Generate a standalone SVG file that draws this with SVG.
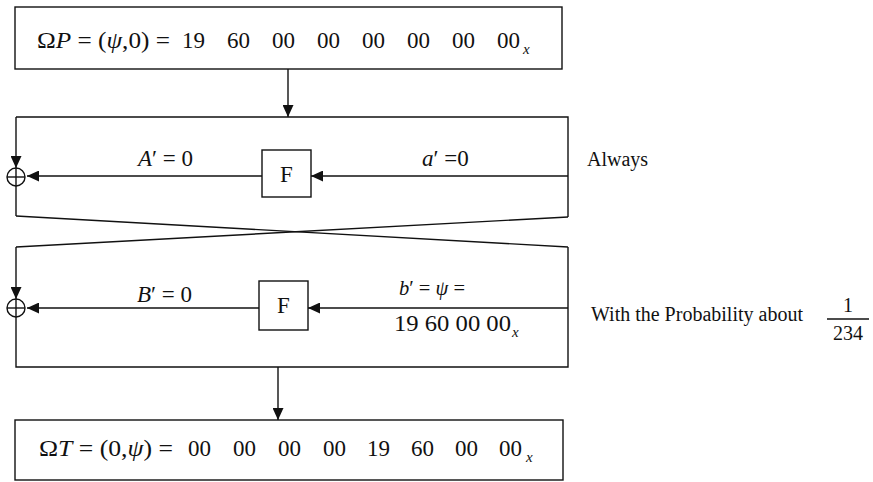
<svg xmlns="http://www.w3.org/2000/svg" width="873" height="482" viewBox="0 0 873 482">
<defs>
<marker id="ah" markerUnits="userSpaceOnUse" markerWidth="12" markerHeight="11" viewBox="0 0 12 11" refX="12" refY="5.5" orient="auto"><path d="M0,0 L12,5.5 L0,11 Z" fill="#111"/></marker>
<style>
.ln{stroke:#111;stroke-width:1.4;fill:none}
.box{fill:#fff;stroke:#111;stroke-width:1.4}
.t{font-family:"Liberation Serif","Times New Roman",serif;fill:#111}
.m{font-size:23px}
.s{font-size:21px}
.i{font-style:italic}
.lbl{font-size:20px}
.sub{font-size:15px;font-style:italic}
</style>
</defs>
<rect width="873" height="482" fill="#fff"/>

<g id="connectors">
  <line class="ln" x1="288" y1="69" x2="288" y2="117" marker-end="url(#ah)"/>
  <path class="ln" d="M16,117 H568 V217"/>
  <line class="ln" x1="16" y1="117" x2="16" y2="168" marker-end="url(#ah)"/>
  <line class="ln" x1="16" y1="186" x2="16" y2="216"/>
  <line class="ln" x1="568" y1="176" x2="311" y2="176" marker-end="url(#ah)"/>
  <line class="ln" x1="262" y1="176" x2="27" y2="176" marker-end="url(#ah)"/>
  <line class="ln" x1="16" y1="216" x2="568" y2="247"/>
  <line class="ln" x1="568" y1="217" x2="16" y2="247"/>
  <path class="ln" d="M568,247 V367 H16 V317"/>
  <line class="ln" x1="16" y1="247" x2="16" y2="299" marker-end="url(#ah)"/>
  <line class="ln" x1="568" y1="308" x2="308" y2="308" marker-end="url(#ah)"/>
  <line class="ln" x1="259" y1="308" x2="27" y2="308" marker-end="url(#ah)"/>
  <line class="ln" x1="278" y1="367" x2="278" y2="420" marker-end="url(#ah)"/>
</g>

<g id="top-box">
  <rect class="box" x="15" y="7" width="547" height="62"/>
  <text class="t m" x="37" y="48" textLength="133" lengthAdjust="spacingAndGlyphs">Ω<tspan class="i">P</tspan> = (<tspan class="i">ψ</tspan>,0) =</text>
  <text class="t m" y="48"><tspan x="182">19</tspan><tspan x="227">60</tspan><tspan x="272">00</tspan><tspan x="317">00</tspan><tspan x="362">00</tspan><tspan x="407">00</tspan><tspan x="452">00</tspan><tspan x="497">00</tspan></text>
  <text class="t sub" x="523" y="54">x</text>
</g>

<g id="xor1">
  <circle class="ln" cx="16" cy="177" r="9"/>
  <line class="ln" x1="7" y1="177" x2="25" y2="177"/>
  <line class="ln" x1="16" y1="168" x2="16" y2="186"/>
</g>
<g id="f1">
  <rect class="box" x="262" y="150" width="49" height="47"/>
  <text class="t m" x="286.5" y="182" text-anchor="middle">F</text>
</g>
<g id="label-a-out">
  <text class="t m" x="138" y="166"><tspan class="i">A</tspan>′ = 0</text>
</g>
<g id="label-a-in">
  <text class="t m" x="422" y="166"><tspan class="i">a</tspan>′ =0</text>
</g>
<g id="label-always">
  <text class="t lbl" x="587" y="166">Always</text>
</g>

<g id="xor2">
  <circle class="ln" cx="16" cy="308" r="9"/>
  <line class="ln" x1="7" y1="308" x2="25" y2="308"/>
  <line class="ln" x1="16" y1="299" x2="16" y2="317"/>
</g>
<g id="f2">
  <rect class="box" x="259" y="281" width="49" height="49"/>
  <text class="t m" x="283.5" y="313" text-anchor="middle">F</text>
</g>
<g id="label-b-out">
  <text class="t m" x="137" y="302"><tspan class="i">B</tspan>′ = 0</text>
</g>
<g id="label-b-in">
  <text class="t s" x="399" y="295" textLength="66" lengthAdjust="spacingAndGlyphs"><tspan class="i">b</tspan>′ = <tspan class="i">ψ</tspan> =</text>
  <text class="t m" x="394" y="331" textLength="117" lengthAdjust="spacingAndGlyphs">19 60 00 00</text>
  <text class="t sub" x="512" y="337">x</text>
</g>
<g id="label-prob">
  <text class="t lbl" x="591" y="321">With the Probability about</text>
  <text class="t lbl" x="848" y="312" text-anchor="middle">1</text>
  <line class="ln" x1="827" y1="319" x2="869" y2="319"/>
  <text class="t lbl" x="848" y="340" text-anchor="middle">234</text>
</g>

<g id="bottom-box">
  <rect class="box" x="15" y="420" width="548" height="60"/>
  <text class="t m" x="39" y="456" textLength="134" lengthAdjust="spacingAndGlyphs">Ω<tspan class="i">T</tspan> = (0,<tspan class="i">ψ</tspan>) =</text>
  <text class="t m" y="456"><tspan x="188">00</tspan><tspan x="233">00</tspan><tspan x="278">00</tspan><tspan x="323">00</tspan><tspan x="367">19</tspan><tspan x="411">60</tspan><tspan x="455">00</tspan><tspan x="499">00</tspan></text>
  <text class="t sub" x="526" y="462">x</text>
</g>
</svg>
